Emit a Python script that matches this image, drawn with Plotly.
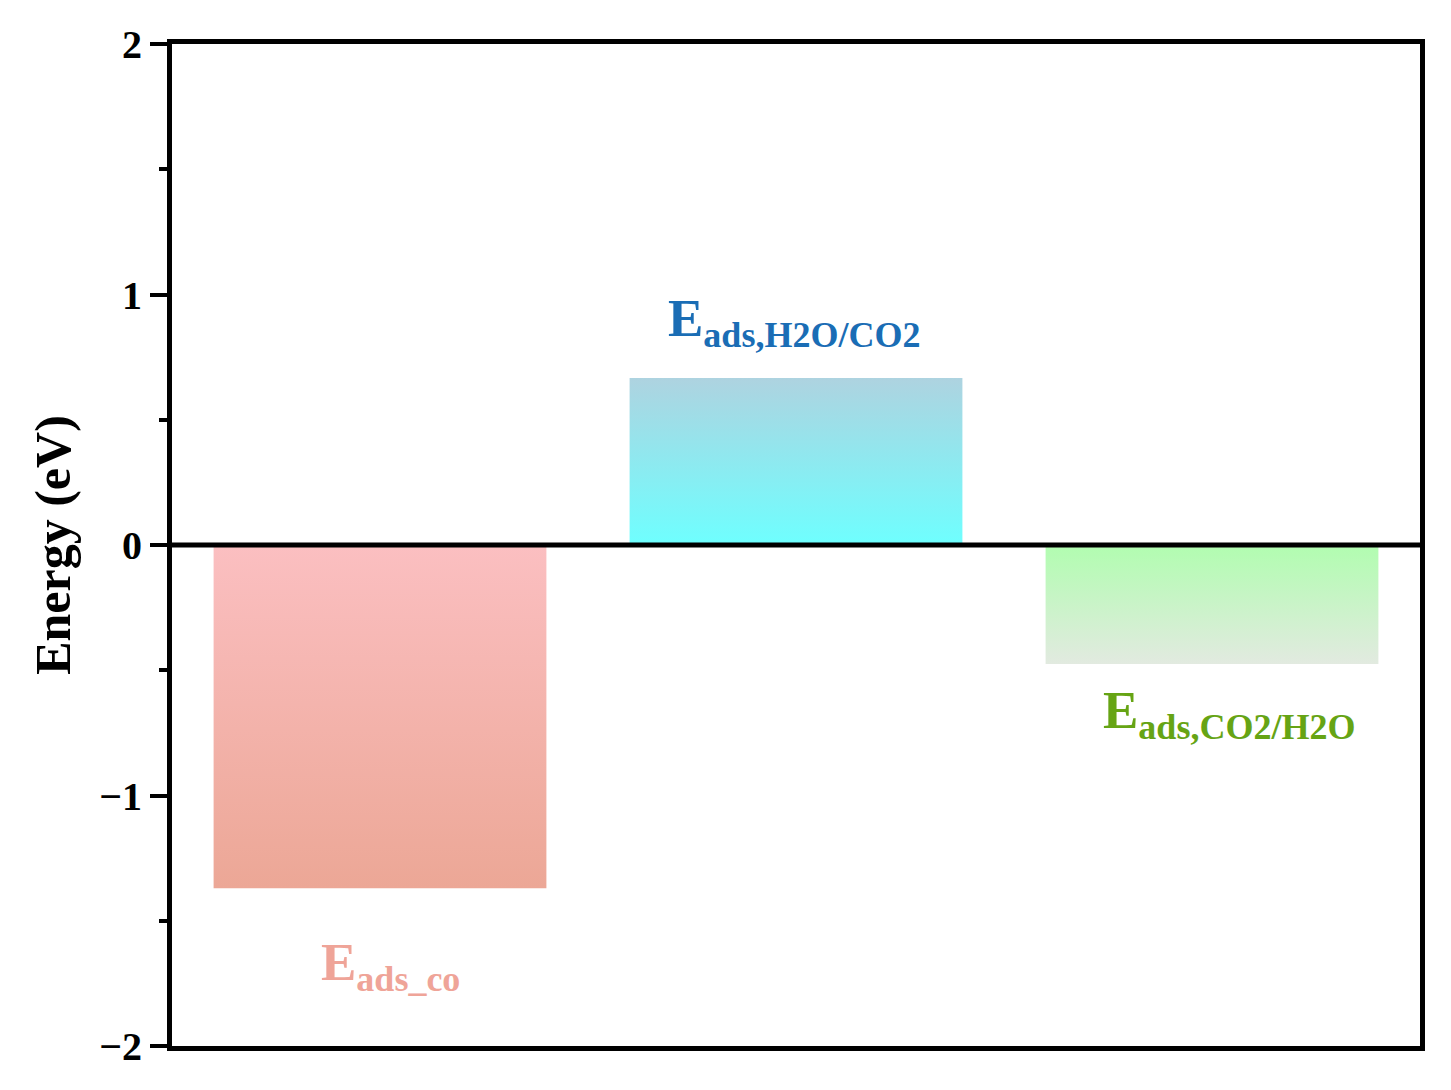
import plotly.graph_objects as go

# data
categories = ["ads_co", "ads,H2O/CO2", "ads,CO2/H2O"]
energies = [-1.37, 0.667, -0.475]
positions = [0, 1, 2]
bar_width = 0.8

# gradient colours: [colour at lowest y, colour at highest y]
grad_colors = [["#ECA796", "#FBBFC1"],
               ["#6EFFFF", "#AED3E0"],
               ["#E2EAE0", "#B1FDB0"]]
label_colors = ["#EFA498", "#1A6DB5", "#66A414"]
label_x = [0.025, 0.995, 2.04]
label_y = [-1.68, 0.89, -0.675]

FONT = "Liberation Serif, Times New Roman, serif"

fig = go.Figure()

for pos, val, cols in zip(positions, energies, grad_colors):
    x0 = pos - bar_width / 2
    x1 = pos + bar_width / 2
    fig.add_trace(go.Scatter(
        x=[x0, x0, x1, x1, x0],
        y=[0, val, val, 0, 0],
        mode="lines",
        fill="toself",
        fillgradient=dict(type="vertical", colorscale=[[0, cols[0]], [1, cols[1]]]),
        line=dict(width=0),
        showlegend=False,
        hoverinfo="skip",
    ))

for cat, x, y, c in zip(categories, label_x, label_y, label_colors):
    txt = 'E<sub><span style="font-size:36px">%s</span></sub>' % cat
    fig.add_annotation(x=x, y=y, text=txt, showarrow=False,
                       font=dict(family=FONT, size=53, color=c, weight="bold"),
                       xanchor="center", yanchor="middle")

# zero line above the bars
fig.add_shape(type="line", xref="paper", x0=0, x1=1, y0=0, y1=0,
              line=dict(color="black", width=5), layer="above")

fig.update_layout(
    width=1451, height=1090,
    margin=dict(l=164, r=39, t=36, b=52),
    paper_bgcolor="white", plot_bgcolor="white",
    font=dict(family=FONT, color="black"),
)

fig.update_xaxes(range=[-0.5, 2.5], showgrid=False, zeroline=False,
                 showticklabels=False, ticks="",
                 showline=True, mirror=True, linecolor="black", linewidth=5)

fig.update_yaxes(range=[-2, 2], dtick=1, showgrid=False, zeroline=False,
                 showline=True, mirror=True, linecolor="black", linewidth=5,
                 ticks="outside", ticklen=17, tickwidth=4, tickcolor="black",
                 minor=dict(dtick=0.5, ticks="outside", ticklen=8, tickwidth=4,
                            tickcolor="black", showgrid=False),
                 tickfont=dict(family=FONT, size=40, weight="bold"),
                 title=dict(text="Energy (eV)", standoff=14,
                            font=dict(family=FONT, size=50, weight="bold")))

fig.write_html("out.html")
